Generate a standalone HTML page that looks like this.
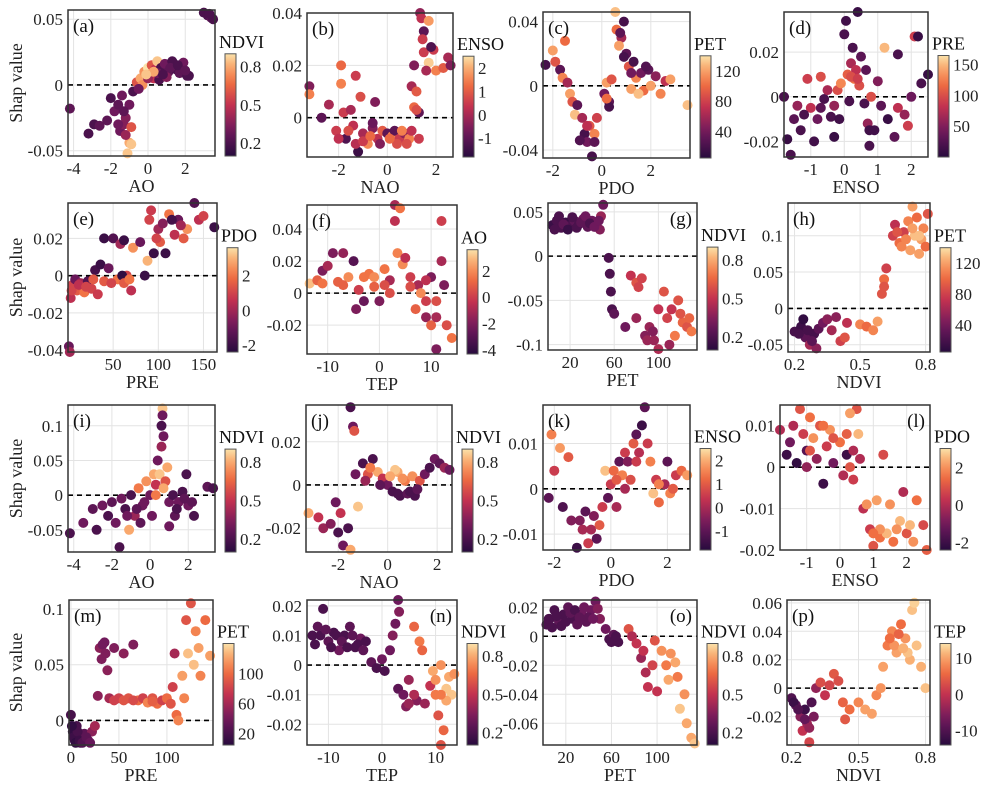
<!DOCTYPE html>
<html><head><meta charset="utf-8"><style>
html,body{margin:0;padding:0;background:#fff;}
svg{display:block;font-family:"Liberation Serif",serif;}
</style></head><body>
<svg id="fig" width="1003" height="795" viewBox="0 0 1003 795"></svg>
<script>
const aPts=[[3.0,0.055,0.2],[3.2,0.053,0.2],[3.4,0.051,0.25],[3.5,0.05,0.2],[3.3,0.054,0.2],[-4.2,-0.018,0.25],[-3.2,-0.037,0.2],[-2.9,-0.03,0.2],[-2.6,-0.031,0.25],[-2.2,-0.027,0.25],[-2,-0.01,0.2],[-1.8,-0.02,0.3],[-1.5,-0.035,0.3],[-1.3,-0.03,0.35],[-1.2,-0.025,0.35],[-1.0,-0.044,0.8],[-0.9,-0.045,0.85],[-1.1,-0.052,0.85],[-1.0,-0.015,0.3],[-0.8,-0.005,0.2],[-0.6,0.002,0.6],[-0.4,0.005,0.8],[-0.2,0.01,0.75],[0,0.013,0.9],[0.2,0.015,0.6],[0.4,0.012,0.5],[0.5,0.018,0.85],[0.7,0.013,0.2],[0.9,0.016,0.3],[1.1,0.01,0.25],[1.3,0.018,0.2],[1.5,0.012,0.2],[1.7,0.009,0.25],[1.9,0.017,0.3],[2.1,0.007,0.2],[2.2,0.007,0.2],[0.1,0.008,0.7],[0.3,0.005,0.5],[-0.3,0.0,0.75],[-1.6,-0.015,0.25],[-1.4,-0.008,0.3],[-1.2,-0.038,0.4],[-0.9,-0.032,0.6],[0.6,0.004,0.2],[1.0,0.006,0.35],[0.5,0.009,0.3],[0.8,0.008,0.2],[1.2,0.013,0.25],[1.6,0.015,0.2],[2.0,0.011,0.25],[0,0.005,0.4],[-0.5,-0.003,0.3],[0.3,0.01,0.8],[-0.1,0.008,0.85],[-1.3,-0.02,0.25],[-1.6,-0.03,0.3]];
const bPts=[[-3.2,0.012,-0.5],[-3.2,0.009,1.5],[-2.7,0,-1],[-2.4,0.005,0],[-2.1,-0.005,0.5],[-1.9,0.02,1.2],[-1.9,0.013,1.5],[-1.8,0.002,0.5],[-1.7,-0.008,-1.2],[-1.5,0.003,0],[-1.4,-0.003,0.3],[-1.3,0.016,0.5],[-1.2,-0.013,-1.5],[-1.1,0.008,0.8],[-1,-0.006,0],[-0.8,-0.01,1.6],[-0.6,-0.004,-0.5],[-0.5,0.006,-0.5],[-0.4,-0.008,0.3],[-0.2,-0.005,1],[0,-0.006,-1],[0.2,-0.007,1.5],[0.3,-0.005,-1],[0.5,-0.008,0.5],[0.7,-0.006,-0.3],[0.9,-0.008,1.5],[1.0,-0.005,0.3],[1.1,0.004,1.2],[1.0,0.012,0],[1.1,0.02,-0.5],[1.2,0.01,1],[1.3,0.002,-1],[1.35,0.04,-0.3],[1.4,0.038,0.3],[1.5,0.033,-1],[1.5,0.025,0.5],[1.7,0.037,1.8],[1.7,0.021,2.3],[1.6,0.018,0],[1.9,0.026,0.5],[2.0,0.018,1.5],[2.3,0.019,1.0],[2.5,0.023,0],[2.6,0.02,-0.5],[1.8,0.027,-1.2],[-0.6,-0.002,-0.8],[0.4,-0.01,0.8],[-1.3,-0.01,0.2],[1.3,-0.008,0.5],[-1.0,-0.009,0.5],[-0.7,-0.007,1.2],[-0.3,-0.01,-0.5],[0.1,-0.008,1.2],[0.6,-0.005,1.5],[0.8,-0.01,0.8],[-1.6,-0.005,0.8],[-2.0,-0.008,0.3],[1.2,0.003,0.8],[1.45,0.03,0.5]];
const cPts=[[-2.3,0.013,20],[-2.0,0.022,120],[-1.9,0.015,90],[-1.7,0.01,30],[-1.6,0.005,110],[-1.5,0.028,100],[-1.4,0.002,60],[-1.3,-0.005,120],[-1.2,-0.01,90],[-1.1,-0.018,130],[-1.0,-0.012,30],[-0.8,-0.02,60],[-0.7,-0.03,20],[-0.6,-0.035,40],[-0.5,-0.025,90],[-0.4,-0.044,20],[-0.3,-0.03,110],[-0.2,-0.02,80],[-0.9,-0.034,25],[0.1,-0.005,40],[0.2,0.002,120],[0.3,-0.01,30],[0.4,0.004,90],[0.3,-0.013,20],[0.55,0.046,130],[0.6,0.035,100],[0.8,0.03,60],[0.9,0.04,20],[0.7,0.025,120],[1.0,0.02,30],[1.1,0.012,90],[1.3,0.015,20],[1.4,0.005,110],[1.6,0.008,40],[1.7,-0.003,100],[1.9,0.01,30],[2.0,0.0,120],[2.2,0.006,50],[2.4,-0.005,110],[2.6,0.003,70],[2.8,0.004,120],[3.5,-0.012,130],[1.2,-0.002,120],[1.5,-0.005,130],[0.9,0.018,20],[-0.6,-0.025,70],[-0.3,-0.035,30],[0.2,-0.008,100],[1.2,0.008,40],[1.8,0.012,25],[0.75,0.033,30]];
const dPts=[[-1.8,0,20],[-1.7,-0.019,10],[-1.6,-0.026,20],[-1.5,-0.01,30],[-1.4,-0.004,60],[-1.3,-0.015,20],[-1.1,0.008,90],[-1.0,-0.005,80],[-0.9,-0.02,15],[-0.8,-0.01,40],[-0.7,0.009,100],[-0.6,-0.001,20],[-0.5,0.003,70],[-0.4,-0.009,20],[-0.3,-0.018,10],[-0.2,0.003,100],[-0.1,0.006,130],[0,0.028,20],[0.05,0.034,15],[0.1,0.01,110],[0.2,0.015,70],[0.25,0.022,20],[0.3,0.008,120],[0.35,0.012,80],[0.4,0.038,10],[0.45,0.005,100],[0.5,0.018,30],[0.6,-0.003,20],[0.7,-0.012,60],[0.75,-0.022,20],[0.8,0.0,100],[0.9,-0.015,15],[1.0,0.007,50],[1.1,-0.004,30],[1.2,0.022,150],[1.3,-0.01,10],[1.5,-0.018,30],[1.6,0.019,20],[1.6,-0.005,80],[1.8,-0.008,60],[1.9,-0.013,90],[2.0,0,40],[2.1,0.027,90],[2.2,0.027,10],[2.3,0.006,20],[2.5,0.01,10],[0.15,-0.002,20],[-0.15,-0.01,15],[0.65,0.012,30],[-1.2,-0.008,20],[-0.7,-0.005,30],[-0.3,-0.004,60],[0.2,0.009,100],[0.4,0.008,90],[0.75,-0.015,15]];
const ePts=[[1,-0.038,-1],[2,-0.041,0],[3,-0.012,0.5],[5,-0.005,1],[8,-0.002,-1],[10,-0.008,1.5],[14,-0.004,0],[18,-0.009,2],[22,-0.003,-1.5],[26,-0.007,1],[30,0.003,-1.8],[33,-0.01,0.8],[36,0.006,-2],[40,-0.003,1.5],[40,0.02,-2],[45,0.004,-1],[50,0.02,-1.5],[55,-0.002,2],[58,0.017,0],[62,0.019,-2],[65,0.0,1],[70,-0.008,0.5],[72,0.015,2.5],[80,0.018,-1],[85,0.0,-2],[88,0.008,3],[90,0.03,1],[95,0.012,-2],[100,0.025,0],[102,0.018,1.5],[105,0.028,-0.5],[108,0.012,-2],[112,0.033,2],[118,0.022,0.5],[122,0.03,-1],[128,0.02,1.5],[132,0.025,2.5],[140,0.039,-1.5],[145,0.03,0.5],[150,0.032,1],[162,0.026,-2],[92,0.035,0.8],[115,0.03,-1.8],[60,0.0,-2.2],[4,-0.008,1],[12,-0.005,0.5],[20,-0.006,1],[28,-0.002,1.5],[48,-0.004,1],[62,-0.004,1.5],[68,-0.002,2],[98,0.02,1],[125,0.027,0]];
const fPts=[[-13.5,0.006,3],[-12,0.008,1],[-11,0.014,-2],[-10,0.017,-1],[-9,0.025,-2],[-8,0.007,1],[-7,0.025,-1.5],[-6,0.01,2],[-5,0.02,-3],[-4,0.002,0],[-3,-0.005,-2.5],[-2,0.012,1.5],[-1,0.01,2],[0,-0.005,-2],[1,0.015,1.5],[2,0.008,-1],[3,0.055,-1],[4,0.053,1.5],[3,0.045,-0.5],[3.5,0.025,1.8],[4.5,0.018,2],[5,0.022,-0.5],[6,0.01,0],[7,-0.01,1],[7.5,0.005,-1],[8,0.0,2],[9,-0.015,-1.5],[10,-0.02,1],[11,-0.035,-2],[12,0.045,0],[12,0.02,-1],[12.5,0.005,-2],[13,-0.02,0.5],[14,-0.028,1.5],[10,0.01,-2],[11,-0.005,0.5],[9,0.008,-0.5],[-4.5,-0.01,-2],[2,0.0,0.5],[-11,0.006,1.5],[-7,0.005,1],[-3,0.01,1.5],[-1,0.004,1],[1,0.005,0.5],[6,0.004,0.5],[9,-0.005,0],[11,-0.015,-1]];
const gPts=[[4,0.035,0.15],[8,0.04,0.2],[12,0.032,0.2],[16,0.038,0.15],[20,0.034,0.2],[24,0.04,0.25],[28,0.036,0.2],[32,0.042,0.3],[36,0.033,0.25],[40,0.04,0.3],[44,0.037,0.35],[48,0.045,0.4],[50,0.058,0.3],[47,0.03,0.35],[55,-0.002,0.2],[56,-0.02,0.2],[57,-0.04,0.2],[58,-0.06,0.2],[60,-0.065,0.25],[75,-0.022,0.5],[80,-0.03,0.6],[85,-0.025,0.55],[80,-0.07,0.4],[88,-0.09,0.35],[92,-0.08,0.4],[96,-0.095,0.4],[100,-0.105,0.45],[105,-0.04,0.6],[108,-0.07,0.55],[112,-0.06,0.5],[115,-0.09,0.7],[118,-0.05,0.6],[122,-0.075,0.65],[126,-0.08,0.6],[130,-0.085,0.7],[100,-0.06,0.5],[110,-0.1,0.4],[70,-0.08,0.3],[6,0.03,0.2],[10,0.045,0.2],[14,0.036,0.25],[18,0.03,0.15],[22,0.044,0.2],[26,0.032,0.2],[30,0.038,0.25],[34,0.045,0.3],[38,0.037,0.2],[42,0.033,0.3],[46,0.04,0.3],[90,-0.095,0.4],[95,-0.085,0.35],[120,-0.065,0.6],[128,-0.07,0.65],[82,-0.035,0.55]];
const hPts=[[0.2,-0.032,20],[0.23,-0.025,15],[0.25,-0.04,30],[0.27,-0.05,60],[0.29,-0.035,20],[0.31,-0.028,30],[0.33,-0.02,40],[0.35,-0.015,50],[0.37,-0.03,60],[0.39,-0.012,50],[0.41,-0.045,80],[0.43,-0.04,90],[0.44,-0.02,70],[0.3,-0.055,50],[0.24,-0.015,10],[0.5,-0.022,110],[0.53,-0.025,100],[0.56,-0.03,110],[0.58,-0.018,120],[0.6,0.02,90],[0.61,0.04,100],[0.62,0.055,80],[0.61,0.03,90],[0.65,0.1,80],[0.66,0.115,70],[0.68,0.09,100],[0.7,0.105,80],[0.72,0.12,110],[0.73,0.08,120],[0.74,0.14,120],[0.75,0.1,130],[0.76,0.125,100],[0.78,0.095,120],[0.79,0.11,110],[0.8,0.085,100],[0.81,0.13,90],[0.69,0.085,110],[0.77,0.075,120],[0.67,0.105,90],[0.71,0.095,110],[0.74,0.11,120],[0.77,0.1,130],[0.26,-0.03,20],[0.28,-0.045,30],[0.22,-0.035,20]];
const iPts=[[-4.2,-0.055,0.2],[-3.5,-0.04,0.3],[-3.0,-0.02,0.25],[-2.8,-0.05,0.2],[-2.5,-0.015,0.3],[-2.2,-0.03,0.2],[-2,-0.01,0.25],[-1.8,-0.04,0.3],[-1.6,-0.075,0.2],[-1.5,-0.005,0.3],[-1.3,-0.02,0.2],[-1.1,-0.05,0.8],[-1,0.0,0.2],[-0.8,-0.03,0.4],[-0.6,0.01,0.7],[-0.4,-0.015,0.3],[-0.2,0.02,0.75],[0,0.0,0.3],[0.2,0.03,0.8],[0.3,0.015,0.5],[0.4,0.05,0.3],[0.5,0.03,0.85],[0.6,0.1,0.2],[0.65,0.125,0.85],[0.7,0.085,0.3],[0.6,0.07,0.4],[0.8,0.02,0.6],[0.9,0.04,0.8],[1.0,-0.01,0.3],[1.2,0.0,0.2],[1.3,-0.03,0.25],[1.5,-0.01,0.3],[1.7,0.005,0.2],[1.9,0.03,0.2],[2.0,-0.015,0.3],[2.2,-0.01,0.25],[2.3,-0.03,0.2],[3.0,0.012,0.25],[3.3,0.01,0.2],[0.1,-0.03,0.3],[-0.5,-0.04,0.25],[1.0,-0.045,0.3],[-1.2,-0.03,0.3],[-0.7,-0.02,0.25],[-0.3,-0.01,0.3],[0.3,0.0,0.7],[0.7,0.01,0.8],[1.4,-0.02,0.2],[1.8,-0.005,0.25],[0.65,0.115,0.3]];
const jPts=[[-3.2,-0.013,0.8],[-2.8,-0.015,0.5],[-2.6,-0.02,0.4],[-2.3,-0.018,0.35],[-2.1,-0.008,0.3],[-2,-0.022,0.2],[-1.9,-0.013,0.5],[-1.8,-0.028,0.3],[-1.6,-0.02,0.2],[-1.5,-0.03,0.8],[-1.5,0.036,0.2],[-1.4,0.027,0.3],[-1.35,0.025,0.6],[-1.3,0.005,0.3],[-1.2,-0.01,0.85],[-1.0,0.01,0.2],[-0.8,0.005,0.6],[-0.6,0.012,0.2],[-0.4,0.006,0.8],[-0.2,0.003,0.5],[0,0.0,0.3],[0.2,-0.003,0.2],[0.4,0.006,0.8],[0.5,-0.005,0.2],[0.7,0.002,0.7],[0.8,-0.004,0.25],[1.0,0.004,0.75],[1.1,-0.005,0.2],[1.3,0.002,0.6],[1.5,0.005,0.3],[1.7,0.008,0.2],[1.9,0.012,0.3],[2.1,0.01,0.25],[2.3,0.008,0.4],[2.5,0.007,0.3],[-0.9,0.002,0.4],[0.3,0.007,0.85],[0.1,0.004,0.8],[0.6,0.003,0.75],[0.9,-0.003,0.2],[1.2,-0.002,0.25],[-0.7,0.008,0.7],[-0.3,0.0,0.25],[0.4,-0.004,0.2]];
const kPts=[[-2.2,-0.002,-1],[-2.1,0.012,1.5],[-2.0,0.004,0.5],[-1.8,0.009,1.8],[-1.7,-0.004,-1.2],[-1.5,0.007,1],[-1.4,-0.007,-0.5],[-1.2,-0.013,-1.5],[-1.0,-0.009,0],[-0.9,-0.005,-1],[-0.8,-0.012,0.5],[-0.6,-0.006,-0.5],[-0.4,-0.008,1],[-0.2,0.004,2.2],[-0.1,-0.002,-1],[0,0.001,0.5],[0.1,0.004,1.2],[0.2,-0.004,0],[0.3,0.006,-1],[0.4,0.003,1.5],[0.5,0.008,0.5],[0.6,0.006,-0.5],[0.8,0.01,1],[0.9,0.012,-1],[1.0,0.008,0.2],[1.1,0.014,-1.5],[1.2,0.018,-1],[1.3,0.01,0.5],[1.4,0.006,1.5],[1.5,-0.001,2.2],[1.6,0.002,0.5],[1.7,-0.003,1.2],[1.9,0.001,0],[2.0,0.006,-1],[2.1,-0.001,1.5],[2.3,0.003,0.5],[2.5,0.004,1.2],[2.7,0.003,1.8],[0.7,0.002,0.8],[-0.5,-0.011,-1],[-1.1,-0.007,-0.5],[-0.7,-0.009,0],[-0.3,-0.004,0.5],[0.2,0.002,1],[0.5,0.0,0],[0.9,0.006,0.5],[1.7,0.001,1.5],[2.2,0.0,1]];
const lPts=[[-1.8,0.009,0],[-1.6,0.003,-2],[-1.5,0.006,-1],[-1.3,0.001,-2.2],[-1.2,0.014,1],[-1.1,0.008,0.5],[-1.0,0.004,-1.5],[-0.9,0.012,1.5],[-0.8,0.007,2],[-0.7,0.002,-0.5],[-0.6,0.01,1],[-0.5,-0.004,-2],[-0.4,0.005,0.5],[-0.3,0.009,2],[-0.2,0.001,-1],[0,0.006,1.5],[0.1,-0.002,0],[0.2,0.003,-2],[0.3,0.0,1],[0.4,-0.003,0.5],[0.5,0.014,1],[0.55,0.008,2.5],[0.6,0.002,0],[0.7,-0.01,0.2],[0.8,-0.009,2],[0.9,-0.015,0.5],[1.0,-0.019,1],[1.1,-0.008,2.2],[1.2,-0.017,1.5],[1.3,0.003,0.8],[1.4,-0.016,2.5],[1.5,-0.009,2],[1.6,-0.018,1.5],[1.8,-0.013,2.5],[1.9,-0.006,0],[2.0,-0.016,1],[2.2,-0.018,2],[2.3,-0.008,1.5],[2.5,-0.014,0.8],[2.6,-0.02,1.2],[0.3,0.013,2.2],[-1.0,0.0,-0.5],[-1.4,0.01,0],[-0.9,0.004,1],[-0.5,0.01,1.5],[-0.2,0.007,1],[0.2,0.008,1.2],[0.4,0.004,0],[1.2,-0.015,2],[1.7,-0.015,2],[2.1,-0.014,2.5],[1.0,-0.016,1.5]];
const mPts=[[0,0.005,20],[2,-0.01,10],[4,-0.018,15],[6,-0.005,20],[8,-0.015,25],[10,-0.02,15],[14,-0.012,30],[18,-0.018,40],[22,-0.01,50],[25,-0.005,60],[28,0.022,50],[30,0.065,50],[32,0.055,45],[35,0.07,40],[38,0.045,50],[40,0.02,60],[45,0.065,45],[50,0.02,80],[55,0.06,50],[60,0.02,90],[65,0.068,45],[70,0.018,100],[75,0.02,80],[80,0.016,110],[85,0.02,90],[90,0.015,100],[95,0.018,80],[100,0.02,100],[104,0.015,90],[106,0.03,80],[108,0.06,60],[110,0.005,100],[112,0.0,110],[116,0.04,120],[120,0.09,90],[122,0.06,130],[125,0.105,90],[128,0.05,130],[130,0.08,110],[133,0.065,120],[135,0.04,110],[140,0.09,100],[145,0.058,120],[118,0.02,110],[3,-0.015,15],[5,-0.02,10],[7,-0.01,20],[9,-0.018,15],[12,-0.02,25],[16,-0.015,30],[20,-0.02,35],[1,-0.005,10],[45,0.018,80],[55,0.018,90],[65,0.018,85],[85,0.017,95],[33,0.068,40],[36,0.06,45]];
const nPts=[[-13,0.01,0.2],[-12,0.013,0.25],[-11,0.019,0.2],[-10,0.008,0.25],[-9,0.011,0.2],[-8,0.005,0.3],[-7,0.01,0.2],[-6,0.013,0.25],[-5,0.006,0.2],[-4,0.009,0.3],[-3,0.008,0.2],[-2,0.001,0.25],[-1,-0.001,0.2],[0,0.002,0.3],[0.5,-0.002,0.2],[1.5,0.005,0.3],[2,0.01,0.35],[2.5,0.014,0.3],[3,0.022,0.3],[3.2,0.018,0.35],[3,-0.008,0.25],[4,-0.01,0.3],[5,-0.005,0.4],[6,0.013,0.65],[6.5,-0.012,0.35],[7,0.008,0.7],[7.5,0.005,0.65],[8,-0.013,0.4],[9,-0.007,0.5],[9.5,-0.002,0.8],[10,-0.01,0.7],[10.5,-0.017,0.6],[11,-0.027,0.6],[11,0.0,0.75],[12,-0.008,0.85],[12.5,-0.004,0.8],[13,-0.01,0.85],[13.5,-0.003,0.75],[11.5,-0.022,0.65],[4.5,-0.014,0.35],[-12.5,0.007,0.2],[-11.5,0.01,0.2],[-10.5,0.012,0.25],[-9.5,0.006,0.2],[-8.5,0.01,0.2],[-7.5,0.008,0.25],[-6.5,0.006,0.2],[-5.5,0.01,0.25],[-4.5,0.007,0.2],[-3.5,0.005,0.25],[12,-0.012,0.8],[11,-0.01,0.7],[10,-0.005,0.75],[5,-0.013,0.4],[6,-0.01,0.45]];
const oPts=[[3,0.008,0.2],[6,0.012,0.2],[10,0.018,0.2],[14,0.01,0.25],[18,0.015,0.2],[22,0.02,0.25],[26,0.012,0.2],[30,0.008,0.25],[34,0.015,0.3],[38,0.01,0.25],[42,0.018,0.3],[46,0.024,0.3],[50,0.012,0.35],[55,0.005,0.3],[58,-0.002,0.2],[62,0.001,0.25],[66,-0.004,0.2],[75,0.005,0.6],[78,0.0,0.45],[82,-0.005,0.5],[86,-0.015,0.4],[90,-0.025,0.45],[92,-0.035,0.5],[96,-0.02,0.55],[100,-0.038,0.5],[104,-0.01,0.75],[108,-0.02,0.7],[110,-0.03,0.8],[112,-0.012,0.75],[116,-0.018,0.8],[118,-0.028,0.7],[120,-0.05,0.85],[124,-0.04,0.75],[126,-0.06,0.8],[130,-0.07,0.8],[133,-0.074,0.85],[98,-0.003,0.6],[88,-0.01,0.5],[5,0.012,0.2],[8,0.006,0.2],[12,0.014,0.2],[16,0.007,0.2],[20,0.01,0.2],[24,0.016,0.25],[28,0.018,0.2],[32,0.013,0.25],[36,0.02,0.3],[40,0.013,0.25],[44,0.012,0.3],[48,0.019,0.35],[60,-0.004,0.2],[64,0.0,0.2]];
const pPts=[[0.2,-0.007,-10],[0.22,-0.012,-8],[0.24,-0.02,-5],[0.25,-0.03,0],[0.26,-0.015,-12],[0.27,-0.025,-3],[0.28,-0.038,2],[0.29,-0.01,-10],[0.3,-0.02,-6],[0.31,0.0,-4],[0.33,0.004,3],[0.35,-0.005,0],[0.37,0.002,2],[0.39,0.01,4],[0.41,0.005,3],[0.43,-0.01,5],[0.44,-0.022,4],[0.46,-0.015,6],[0.5,-0.01,8],[0.53,-0.015,10],[0.56,-0.018,10],[0.58,-0.005,8],[0.6,0.0,9],[0.61,0.015,10],[0.63,0.03,7],[0.65,0.04,8],[0.67,0.025,10],[0.69,0.045,6],[0.71,0.035,9],[0.73,0.02,11],[0.74,0.055,12],[0.75,0.06,13],[0.76,0.03,12],[0.78,0.015,11],[0.8,0.0,12],[0.68,0.038,5],[0.72,0.025,12],[0.21,-0.01,-12],[0.23,-0.015,-10],[0.26,-0.022,-8],[0.28,-0.028,-4],[0.66,0.03,9],[0.7,0.028,11],[0.64,0.035,6]];

const panelLabels=['(a)','(b)','(c)','(d)','(e)','(f)','(g)','(h)','(i)','(j)','(k)','(l)','(m)','(n)','(o)','(p)'];
const xTitles=['AO','NAO','PDO','ENSO','PRE','TEP','PET','NDVI','AO','NAO','PDO','ENSO','PRE','TEP','PET','NDVI'];
const cTitles=['NDVI','ENSO','PET','PRE','PDO','AO','NDVI','PET','NDVI','NDVI','ENSO','PDO','PET','NDVI','NDVI','TEP'];
const xRanges=[[-4.3,3.6],[-3.3,2.7],[-2.4,3.6],[-1.8,2.5],[0,165],[-14,15],[0,135],[0.17,0.82],[-4.3,3.4],[-3.3,2.6],[-2.4,2.8],[-1.8,2.7],[-2,148],[-14,14],[0,135],[0.18,0.82]];
const yRanges=[[-0.054,0.057],[-0.015,0.04],[-0.045,0.046],[-0.027,0.038],[-0.041,0.039],[-0.038,0.055],[-0.106,0.06],[-0.06,0.145],[-0.082,0.13],[-0.031,0.037],[-0.0135,0.0185],[-0.02,0.015],[-0.022,0.108],[-0.027,0.022],[-0.075,0.025],[-0.04,0.062]];
const cRanges=[[0.1,0.9],[-1.8,2.5],[5,140],[0,165],[-2.4,3.6],[-4.3,3.6],[0.1,0.9],[5,140],[0.1,0.9],[0.1,0.9],[-1.8,2.5],[-2.4,3.0],[5,140],[0.1,0.9],[0.1,0.9],[-14,14]];
const xTicks=[[-4,-2,0,2],[-2,0,2],[-2,0,2],[-1,0,1,2],[50,100,150],[-10,0,10],[20,60,100],[0.2,0.5,0.8],[-4,-2,0,2],[-2,0,2],[-2,0,2],[-1,0,1,2],[0,50,100],[-10,0,10],[20,60,100],[0.2,0.5,0.8]];
const yTicks=[[-0.05,0,0.05],[0,0.02,0.04],[-0.04,0,0.04],[-0.02,0,0.02],[-0.04,-0.02,0,0.02],[-0.02,0,0.02,0.04],[-0.1,-0.05,0,0.05],[-0.05,0,0.05,0.1],[-0.05,0,0.05,0.1],[-0.02,0,0.02],[-0.01,0,0.01],[-0.02,-0.01,0,0.01],[0,0.05,0.1],[-0.02,-0.01,0,0.01,0.02],[-0.06,-0.04,-0.02,0,0.02],[-0.02,0,0.02,0.04,0.06]];
const cTicks=[[0.2,0.5,0.8],[-1,0,1,2],[40,80,120],[50,100,150],[-2,0,2],[-4,-2,0,2],[0.2,0.5,0.8],[40,80,120],[0.2,0.5,0.8],[0.2,0.5,0.8],[-1,0,1,2],[-2,0,2],[20,60,100],[0.2,0.5,0.8],[0.2,0.5,0.8],[-10,0,10]];
const allPts=[aPts,bPts,cPts,dPts,ePts,fPts,gPts,hPts,iPts,jPts,kPts,lPts,mPts,nPts,oPts,pPts];
const labelRight=[false,false,false,false,false,false,true,false,false,false,false,true,false,true,true,false];

const boxes=[[68,10,215,156],[307,13,453,157],[543,12,690,158],[784,12,928,157],
[68,203,217,352],[307,205,457,354],[548,203,697,350],[788,203,930,352],
[68,405,215,552],[306,405,452,552],[543,405,690,550],[780,405,930,550],
[69,600,213,745],[307,600,457,745],[543,600,697,745],[787,600,930,745]];

const stops=[[0,[40,11,62]],[0.25,[110,25,92]],[0.5,[195,50,80]],[0.72,[240,110,65]],[0.88,[249,170,110]],[1,[251,226,170]]];
function cmap(t){t=Math.max(0,Math.min(1,t));for(let i=1;i<stops.length;i++){if(t<=stops[i][0]){const a=stops[i-1],b=stops[i];const f=(t-a[0])/(b[0]-a[0]);const c=a[1].map((v,k)=>Math.round(v+(b[1][k]-v)*f));return `rgb(${c[0]},${c[1]},${c[2]})`;}}return 'rgb(251,226,170)';}
const NS='http://www.w3.org/2000/svg';
const svg=document.getElementById('fig');
function mk(tag,attrs,parent){const e=document.createElementNS(NS,tag);for(const k in attrs)e.setAttribute(k,attrs[k]);(parent||svg).appendChild(e);return e;}
function fmt(v){return String(v);}

const defs=mk('defs',{});
const grad=mk('linearGradient',{id:'cm',x1:'0',y1:'1',x2:'0',y2:'0'},defs);
for(let i=0;i<=10;i++){mk('stop',{offset:i/10,'stop-color':cmap(i/10)},grad);}

for(let p=0;p<16;p++){
  const [x0,y0,x1,y1]=boxes[p];
  const g=mk('g',{});
  
  
  const xr=xRanges[p],yr=yRanges[p],cr=cRanges[p];
  const sx=v=>x0+(v-xr[0])/(xr[1]-xr[0])*(x1-x0);
  const sy=v=>y1-(v-yr[0])/(yr[1]-yr[0])*(y1-y0);
  mk('rect',{x:x0,y:y0,width:x1-x0,height:y1-y0,fill:'#fff'},g);
  xTicks[p].forEach(t=>{const gl=mk('line',{x1:sx(t),x2:sx(t),y1:y0,y2:y1,stroke:'#e3e3e3','stroke-width':1},g);});
  yTicks[p].forEach(t=>{const gl=mk('line',{x1:x0,x2:x1,y1:sy(t),y2:sy(t),stroke:'#e3e3e3','stroke-width':1},g);});
  const z=mk('line',{x1:x0,x2:x1,y1:sy(0),y2:sy(0),stroke:'#000','stroke-width':1.6,'stroke-dasharray':'5,4'},g);
  
  
  allPts[p].forEach(pt=>{
    const c=mk('circle',{cx:sx(pt[0]).toFixed(1),cy:sy(pt[1]).toFixed(1),r:5,fill:cmap((pt[2]-cr[0])/(cr[1]-cr[0]))},g);
    
    
  });
  const bx=mk('rect',{x:x0,y:y0,width:x1-x0,height:y1-y0,fill:'none',stroke:'#333','stroke-width':1.5},g);
  
  
  xTicks[p].forEach(t=>{const tx=mk('text',{x:sx(t),y:y1+18,'font-size':17,'text-anchor':'middle',fill:'#222'},g);tx.textContent=fmt(t);});
  yTicks[p].forEach(t=>{const tx=mk('text',{x:x0-5,y:sy(t)+6,'font-size':17,'text-anchor':'end',fill:'#222'},g);tx.textContent=fmt(t);});
  const xt=mk('text',{x:(x0+x1)/2,y:y1+36,'font-size':18,'text-anchor':'middle',fill:'#222'},g);
  xt.textContent=xTitles[p];
  
  
  const pl=mk('text',{x:labelRight[p]?x1-5:x0+5,y:y0+22,'font-size':19,'text-anchor':labelRight[p]?'end':'start',fill:'#111'},g);
  pl.textContent=panelLabels[p];
  
  
  const cbx=x1+10,cbw=11,cby0=y0+(y1-y0)*0.3,cby1=y1;
  const cb=mk('rect',{x:cbx,y:cby0,width:cbw,height:cby1-cby0,fill:'url(#cm)',stroke:'#555','stroke-width':1},g);
  
  
  const cs=v=>cby1-(v-cr[0])/(cr[1]-cr[0])*(cby1-cby0);
  cTicks[p].forEach(t=>{const tx=mk('text',{x:cbx+cbw+4,y:cs(t)+6,'font-size':17,fill:'#222'},g);tx.textContent=fmt(t);});
  const ct=mk('text',{x:cbx-6,y:cby0-6,'font-size':18,fill:'#111'},g);
  ct.textContent=cTitles[p];
  
  
  if(p%4===0){
    const cy=(y0+y1)/2;
    const yl=mk('text',{x:0,y:0,'font-size':18,'text-anchor':'middle',fill:'#222',transform:`translate(22,${cy}) rotate(-90)`},g);
    yl.textContent='Shap value';
    
    
  }
}
</script>
</body></html>
